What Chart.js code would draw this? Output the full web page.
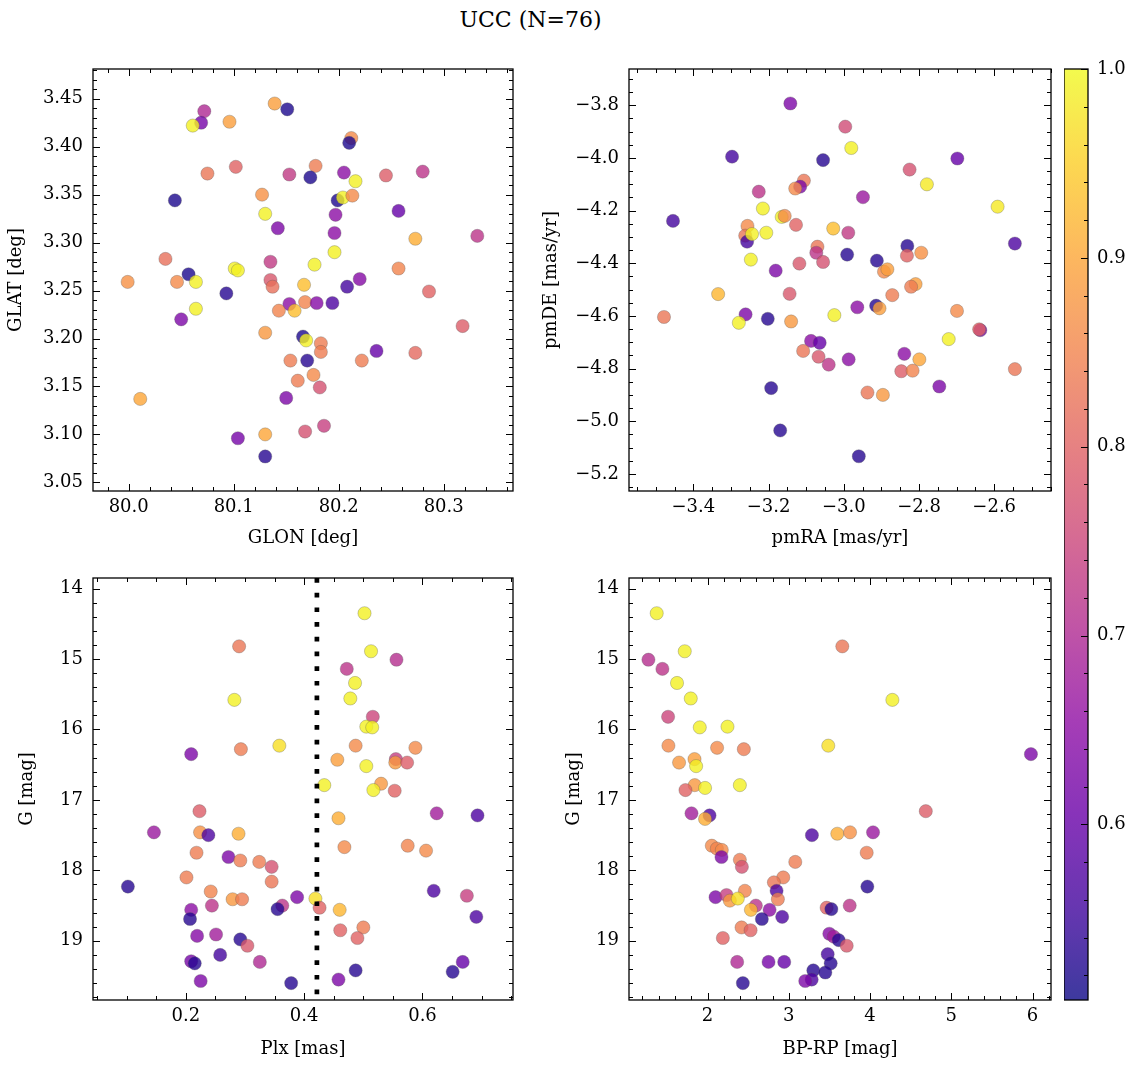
<!DOCTYPE html>
<html>
<head>
<meta charset="utf-8">
<script src="https://cdn.jsdelivr.net/npm/chart.js@4.4.1/dist/chart.umd.min.js"></script>
<style>
body { margin: 0; background: #fff; width: 1136px; height: 1068px; position: relative; overflow: hidden; font-family: 'DejaVu Serif', serif; }
.box { position: absolute; }
#title { position: absolute; left: 0; width: 1061px; top: 7px; line-height: 26px; text-align: center; font-size: 22px; color: #000; }
</style>
</head>
<body>
<div id="title">UCC (N=76)</div>
<div class="box" id="b1"><canvas id="c1"></canvas></div>
<div class="box" id="b2"><canvas id="c2"></canvas></div>
<div class="box" id="b3"><canvas id="c3"></canvas></div>
<div class="box" id="b4"><canvas id="c4"></canvas></div>
<div class="box" id="b5"><canvas id="c5"></canvas></div>
<script>
// position panel
var glon = [80.072,80.069,80.061,80.096,80.139,80.151,80.212,80.210,80.075,80.102,80.153,80.178,80.173,80.205,80.216,80.245,80.280,80.044,80.127,80.199,80.204,80.213,80.130,80.197,80.257,80.142,80.196,80.273,80.332,80.035,80.135,80.177,80.196,80.101,80.104,80.257,79.999,80.046,80.057,80.064,80.135,80.137,80.167,80.208,80.220,80.286,80.093,80.064,80.153,80.143,80.158,80.168,80.179,80.194,80.050,80.130,80.318,80.166,80.169,80.183,80.183,80.236,80.273,80.154,80.170,80.222,80.161,80.176,80.182,80.011,80.150,80.168,80.186,80.104,80.130,80.130];
var glat = [3.437,3.425,3.422,3.426,3.445,3.439,3.409,3.404,3.372,3.379,3.371,3.380,3.368,3.373,3.364,3.370,3.374,3.344,3.350,3.344,3.347,3.349,3.330,3.329,3.333,3.315,3.310,3.304,3.307,3.283,3.280,3.277,3.290,3.273,3.271,3.273,3.259,3.259,3.267,3.259,3.261,3.254,3.256,3.254,3.262,3.249,3.247,3.231,3.236,3.229,3.229,3.238,3.237,3.237,3.220,3.206,3.213,3.202,3.198,3.195,3.186,3.187,3.185,3.177,3.177,3.177,3.156,3.162,3.149,3.137,3.138,3.103,3.109,3.096,3.100,3.077];
var probPos = [0.70,0.62,0.99,0.89,0.89,0.52,0.86,0.52,0.83,0.80,0.73,0.84,0.52,0.65,0.99,0.79,0.72,0.52,0.87,0.52,0.99,0.86,0.99,0.65,0.60,0.63,0.65,0.91,0.72,0.82,0.73,0.99,0.99,0.99,0.99,0.85,0.87,0.86,0.52,0.99,0.78,0.82,0.93,0.56,0.64,0.80,0.53,0.99,0.65,0.85,0.93,0.85,0.64,0.57,0.63,0.88,0.79,0.52,0.99,0.84,0.84,0.60,0.81,0.84,0.53,0.84,0.84,0.86,0.77,0.90,0.63,0.77,0.74,0.62,0.90,0.53];

// proper motion panel
var pmra = [-3.142,-2.996,-2.980,-3.297,-3.055,-2.698,-2.825,-2.779,-3.106,-3.116,-3.129,-3.226,-2.949,-2.591,-3.454,-3.215,-3.165,-3.157,-3.127,-3.256,-3.262,-3.257,-3.244,-3.206,-3.028,-2.988,-2.545,-2.831,-2.832,-2.794,-3.070,-3.073,-2.991,-2.912,-3.055,-3.118,-3.247,-3.181,-2.893,-2.884,-2.809,-2.821,-3.334,-3.144,-2.871,-3.478,-3.261,-3.279,-3.202,-3.140,-3.025,-2.964,-2.914,-2.905,-2.699,-2.637,-2.640,-2.721,-3.087,-3.064,-3.108,-3.067,-3.040,-2.987,-2.839,-2.799,-2.847,-2.817,-2.545,-2.746,-3.193,-2.937,-2.896,-3.169,-2.960];
var pmde = [-3.793,-3.881,-3.962,-3.995,-4.008,-4.002,-4.044,-4.100,-4.086,-4.109,-4.116,-4.128,-4.149,-4.185,-4.239,-4.192,-4.224,-4.220,-4.254,-4.258,-4.295,-4.318,-4.289,-4.284,-4.268,-4.284,-4.325,-4.334,-4.371,-4.360,-4.337,-4.360,-4.367,-4.390,-4.395,-4.401,-4.386,-4.428,-4.432,-4.423,-4.479,-4.489,-4.517,-4.516,-4.521,-4.604,-4.594,-4.626,-4.611,-4.621,-4.597,-4.567,-4.561,-4.571,-4.581,-4.654,-4.651,-4.688,-4.695,-4.702,-4.733,-4.755,-4.785,-4.765,-4.744,-4.765,-4.810,-4.808,-4.802,-4.868,-4.874,-4.891,-4.900,-5.035,-5.133];
var probPm = [0.63,0.76,0.99,0.56,0.53,0.60,0.77,0.98,0.83,0.63,0.86,0.72,0.67,0.98,0.56,0.99,0.99,0.86,0.80,0.86,0.83,0.56,0.99,0.99,0.93,0.73,0.57,0.53,0.80,0.87,0.83,0.72,0.53,0.53,0.77,0.78,0.99,0.63,0.86,0.89,0.89,0.84,0.92,0.78,0.84,0.83,0.63,0.99,0.53,0.88,0.99,0.65,0.53,0.89,0.86,0.62,0.80,0.99,0.65,0.60,0.83,0.78,0.72,0.65,0.65,0.90,0.79,0.85,0.83,0.63,0.53,0.83,0.88,0.53,0.53];

// parallax panel
var plx = [0.502,0.290,0.513,0.556,0.472,0.486,0.282,0.478,0.516,0.505,0.515,0.209,0.293,0.358,0.487,0.588,0.456,0.505,0.555,0.554,0.574,0.434,0.530,0.517,0.553,0.624,0.693,0.223,0.458,0.146,0.224,0.238,0.289,0.468,0.575,0.606,0.218,0.272,0.292,0.324,0.345,0.201,0.102,0.345,0.242,0.619,0.675,0.279,0.295,0.388,0.419,0.426,0.460,0.363,0.355,0.244,0.209,0.207,0.691,0.461,0.500,0.490,0.219,0.251,0.292,0.304,0.325,0.258,0.209,0.215,0.668,0.651,0.487,0.458,0.378,0.225];
var gPlx = [14.35,14.82,14.89,15.01,15.14,15.34,15.58,15.56,15.82,15.96,15.97,16.35,16.28,16.23,16.23,16.26,16.43,16.52,16.42,16.47,16.47,16.79,16.77,16.86,16.87,17.19,17.22,17.16,17.26,17.46,17.46,17.50,17.48,17.67,17.65,17.72,17.75,17.81,17.86,17.88,17.95,18.10,18.23,18.16,18.30,18.29,18.36,18.41,18.41,18.38,18.40,18.53,18.56,18.50,18.55,18.50,18.56,18.69,18.66,18.85,18.81,18.96,18.93,18.91,18.98,19.07,19.30,19.20,19.29,19.32,19.30,19.44,19.42,19.55,19.60,19.57];
var probPlx = [0.99,0.83,0.99,0.71,0.72,0.99,0.99,0.99,0.75,0.99,0.99,0.63,0.84,0.97,0.86,0.86,0.89,0.99,0.74,0.88,0.79,0.99,0.88,0.99,0.80,0.68,0.57,0.79,0.91,0.67,0.87,0.57,0.91,0.86,0.85,0.86,0.84,0.63,0.84,0.84,0.77,0.84,0.53,0.83,0.85,0.57,0.74,0.88,0.84,0.63,0.97,0.80,0.92,0.72,0.53,0.72,0.65,0.53,0.57,0.80,0.84,0.80,0.64,0.68,0.53,0.78,0.70,0.56,0.62,0.53,0.60,0.53,0.53,0.63,0.53,0.63];
var plxLine = 0.4215;

// colour-magnitude panel
var bprp = [1.375,3.659,1.720,1.273,1.445,1.625,4.275,1.794,1.515,1.905,2.246,5.980,1.519,3.486,2.118,2.447,1.650,1.840,1.860,1.843,1.970,2.398,1.729,4.686,1.803,2.025,1.970,3.285,3.597,3.754,4.037,3.959,2.053,2.115,2.176,2.172,2.398,2.423,3.080,2.932,2.817,3.967,2.850,2.460,2.099,2.234,2.275,2.373,2.866,2.595,2.534,2.764,2.669,2.919,3.466,3.524,3.750,2.419,2.530,2.189,3.499,3.553,3.614,3.713,3.479,3.516,2.365,2.751,2.944,3.302,3.450,3.282,3.203,2.435];
var gCmd = [14.35,14.82,14.89,15.01,15.14,15.34,15.58,15.56,15.82,15.97,15.96,16.35,16.23,16.23,16.26,16.28,16.47,16.42,16.52,16.79,16.83,16.79,16.86,17.16,17.19,17.22,17.27,17.50,17.48,17.46,17.46,17.75,17.65,17.69,17.71,17.81,17.85,17.95,17.88,18.10,18.17,18.23,18.29,18.29,18.38,18.35,18.43,18.40,18.41,18.50,18.56,18.56,18.69,18.66,18.53,18.55,18.50,18.81,18.85,18.96,18.90,18.94,18.99,19.07,19.19,19.32,19.30,19.30,19.30,19.42,19.45,19.55,19.57,19.60];
var probCmd = [0.99,0.83,0.99,0.71,0.72,0.99,0.99,0.99,0.75,0.99,0.99,0.63,0.86,0.97,0.86,0.84,0.88,0.89,0.99,0.88,0.99,0.99,0.80,0.79,0.68,0.57,0.91,0.57,0.91,0.87,0.67,0.84,0.86,0.85,0.86,0.63,0.84,0.77,0.84,0.84,0.83,0.53,0.57,0.85,0.63,0.74,0.88,0.97,0.84,0.72,0.92,0.65,0.53,0.57,0.80,0.53,0.72,0.84,0.80,0.80,0.64,0.68,0.53,0.78,0.56,0.53,0.70,0.62,0.60,0.53,0.53,0.57,0.63,0.53];

// ticks
var glonTicks = [80.0, 80.1, 80.2, 80.3];
var glatTicks = [3.05, 3.10, 3.15, 3.20, 3.25, 3.30, 3.35, 3.40, 3.45];
var pmraTicks = [-3.4, -3.2, -3.0, -2.8, -2.6];
var pmdeTicks = [-5.2, -5.0, -4.8, -4.6, -4.4, -4.2, -4.0, -3.8];
var plxTicks = [0.2, 0.4, 0.6];
var gTicks = [14, 15, 16, 17, 18, 19];
var bprpTicks = [2, 3, 4, 5, 6];
var probTicks = [0.6, 0.7, 0.8, 0.9, 1.0];
var probMin = 0.507, probMax = 1.0;

var plasmaStops = ['#0d0887','#41049d','#6a00a8','#8f0da4','#b12a90','#cc4778','#e16462','#f2844b','#fca636','#fcce25','#f0f921'];
function hexRgb(h) { return [parseInt(h.substr(1,2),16), parseInt(h.substr(3,2),16), parseInt(h.substr(5,2),16)]; }
function plasma(t, alpha) {
    t = Math.max(0, Math.min(1, t));
    var s = t * 10, i = Math.min(9, Math.floor(s)), f = s - i;
    var a = hexRgb(plasmaStops[i]), b = hexRgb(plasmaStops[i + 1]);
    var c = a.map(function (v, k) { return Math.round(v + (b[k] - v) * f); });
    return 'rgba(' + c[0] + ',' + c[1] + ',' + c[2] + ',' + alpha + ')';
}
function probColor(p) { return plasma((p - probMin) / (probMax - probMin), 0.8); }

var serif = "'DejaVu Serif', serif";
var tickFont = { family: serif, size: 18 };
var labelFont = { family: serif, size: 18 };

function fmt(v, d) { return v.toFixed(d).replace('-', '\u2212'); }

// inward ticks on all four sides, plus frame
var frameTicks = {
    id: 'frameTicks',
    afterDraw: function (chart) {
        var ctx = chart.ctx, a = chart.chartArea;
        ctx.save();
        ctx.strokeStyle = '#000';
        ctx.lineWidth = 1;
        ['x', 'y'].forEach(function (k) {
            var sc = chart.scales[k];
            if (!sc || !sc.options.minorStep) return;
            var step = sc.options.minorStep, majors = sc.options.majorList;
            var lo = Math.min(sc.min, sc.max), hi = Math.max(sc.min, sc.max);
            var sides = sc.options.tickSides || ['a', 'b'];
            for (var v = Math.ceil(lo / step - 1e-6) * step; v <= hi + 1e-9; v += step) {
                var isMajor = majors.some(function (m) { return Math.abs(m - v) < step / 10; });
                var len = isMajor ? 7 : 4;
                var p = Math.round(sc.getPixelForValue(v)) + 0.5;
                ctx.beginPath();
                if (k === 'x') {
                    ctx.moveTo(p, a.bottom); ctx.lineTo(p, a.bottom - len);
                    ctx.moveTo(p, a.top); ctx.lineTo(p, a.top + len);
                } else {
                    if (sides.indexOf('a') >= 0) { ctx.moveTo(a.left, p); ctx.lineTo(a.left + len, p); }
                    if (sides.indexOf('b') >= 0) { ctx.moveTo(a.right, p); ctx.lineTo(a.right - len, p); }
                }
                ctx.stroke();
            }
        });
        ctx.lineWidth = 1.3;
        ctx.strokeRect(a.left, a.top, a.right - a.left, a.bottom - a.top);
        ctx.restore();
    }
};

function axis(cfg) {
    return {
        type: 'linear',
        position: cfg.position,
        min: cfg.min,
        max: cfg.max,
        reverse: !!cfg.reverse,
        minorStep: cfg.minor,
        majorList: cfg.ticks,
        tickSides: cfg.sides,
        grid: { display: false, drawTicks: false },
        border: { display: false },
        afterBuildTicks: function (sc) { sc.ticks = cfg.ticks.map(function (v) { return { value: v }; }); },
        afterFit: function (sc) {
            if (cfg.position === 'bottom') sc.height = 64; else sc.width = cfg.size || 90;
            sc.paddingTop = 0; sc.paddingBottom = 0; sc.paddingLeft = 0; sc.paddingRight = 0;
        },
        ticks: {
            font: tickFont, color: '#000', padding: cfg.position === 'bottom' ? 6 : 10, maxRotation: 0, autoSkip: false,
            callback: function (v) { return fmt(v, cfg.dec); }
        },
        title: cfg.title ? { display: true, text: cfg.title, font: labelFont, color: '#000', padding: cfg.titlePad } : { display: false }
    };
}

function place(id, area, yw) {
    var b = document.getElementById(id);
    b.style.left = (area[0] - yw) + 'px';
    b.style.top = (area[1] - 10) + 'px';
    b.style.width = (yw + area[2] - area[0] + 10) + 'px';
    b.style.height = (10 + area[3] - area[1] + 64) + 'px';
}

function scatterSet(xs, ys, ps) {
    return {
        type: 'scatter',
        data: xs.map(function (x, i) { return { x: x, y: ys[i] }; }),
        pointRadius: 6.6,
        pointHoverRadius: 6.6,
        pointBackgroundColor: ps.map(probColor),
        pointBorderColor: 'rgba(90,90,90,0.45)',
        pointBorderWidth: 0.7,
        order: 1
    };
}

function panel(canvasId, datasets, xAx, yAx) {
    return new Chart(document.getElementById(canvasId), {
        type: 'scatter',
        data: { datasets: datasets },
        options: {
            responsive: true, maintainAspectRatio: false, animation: false, devicePixelRatio: 1,
            layout: { padding: { top: 10, right: 10, left: 0, bottom: 0 } },
            plugins: { legend: { display: false }, tooltip: { enabled: false } },
            scales: { x: axis(xAx), y: axis(yAx) }
        },
        plugins: [frameTicks]
    });
}

var A1 = [93, 69, 513, 491], A2 = [629, 69, 1051, 491], A3 = [93, 578, 513, 1000], A4 = [629, 578, 1051, 1000];
place('b1', A1, 90); place('b2', A2, 90); place('b3', A3, 90); place('b4', A4, 90);

panel('c1', [scatterSet(glon, glat, probPos)],
    { position: 'bottom', min: 79.966, max: 80.366, ticks: glonTicks, minor: 0.02, dec: 1, title: 'GLON [deg]', titlePad: { bottom: 6 } },
    { position: 'left', min: 3.041, max: 3.481, ticks: glatTicks, minor: 0.01, dec: 2, title: 'GLAT [deg]', titlePad: { top: 3 } });

panel('c2', [scatterSet(pmra, pmde, probPm)],
    { position: 'bottom', min: -3.571, max: -2.449, ticks: pmraTicks, minor: 0.05, dec: 1, title: 'pmRA [mas/yr]', titlePad: { bottom: 6 } },
    { position: 'left', min: -5.265, max: -3.662, ticks: pmdeTicks, minor: 0.05, dec: 1, title: 'pmDE [mas/yr]', titlePad: { top: 2 } });

var vline = {
    type: 'line',
    data: [{ x: plxLine, y: 13.85 }, { x: plxLine, y: 19.84 }],
    borderColor: '#000', borderWidth: 4.7, borderDash: [4.7, 10], borderCapStyle: 'butt',
    pointRadius: 0, order: 0
};
panel('c3', [scatterSet(plx, gPlx, probPlx), vline],
    { position: 'bottom', min: 0.043, max: 0.753, ticks: plxTicks, minor: 0.05, dec: 1, title: 'Plx [mas]', titlePad: { bottom: 4 } },
    { position: 'left', min: 13.85, max: 19.84, reverse: true, ticks: gTicks, minor: 0.2, dec: 0, title: 'G [mag]', titlePad: { top: 14 } });

panel('c4', [scatterSet(bprp, gCmd, probCmd)],
    { position: 'bottom', min: 1.034, max: 6.227, ticks: bprpTicks, minor: 0.2, dec: 0, title: 'BP-RP [mag]', titlePad: { bottom: 4 } },
    { position: 'left', min: 13.85, max: 19.84, reverse: true, ticks: gTicks, minor: 0.2, dec: 0, title: 'G [mag]', titlePad: { top: 25 } });

// colorbar
var cb = document.getElementById('b5');
cb.style.left = '1064px'; cb.style.top = '59px'; cb.style.width = (24 + 60) + 'px'; cb.style.height = (10 + 931 + 10) + 'px';
var cbFill = {
    id: 'cbFill',
    beforeDraw: function (chart) {
        var ctx = chart.ctx, a = chart.chartArea;
        var g = ctx.createLinearGradient(0, a.bottom, 0, a.top);
        for (var i = 0; i <= 50; i++) g.addColorStop(i / 50, plasma(i / 50, 0.8));
        ctx.save();
        ctx.fillStyle = g;
        ctx.fillRect(a.left, a.top, a.right - a.left, a.bottom - a.top);
        ctx.restore();
    }
};
var cbAxis = axis({ position: 'right', min: probMin, max: probMax, ticks: probTicks, minor: 0.02, dec: 1, sides: ['b'], size: 60 });
cbAxis.ticks.padding = 9;
new Chart(document.getElementById('c5'), {
    type: 'scatter',
    data: { datasets: [] },
    options: {
        responsive: true, maintainAspectRatio: false, animation: false, devicePixelRatio: 1,
        layout: { padding: { top: 10, bottom: 10, left: 0, right: 0 } },
        plugins: { legend: { display: false }, tooltip: { enabled: false } },
        scales: {
            x: { display: false, min: 0, max: 1 },
            y: cbAxis
        }
    },
    plugins: [cbFill, frameTicks]
});
</script>
</body>
</html>
